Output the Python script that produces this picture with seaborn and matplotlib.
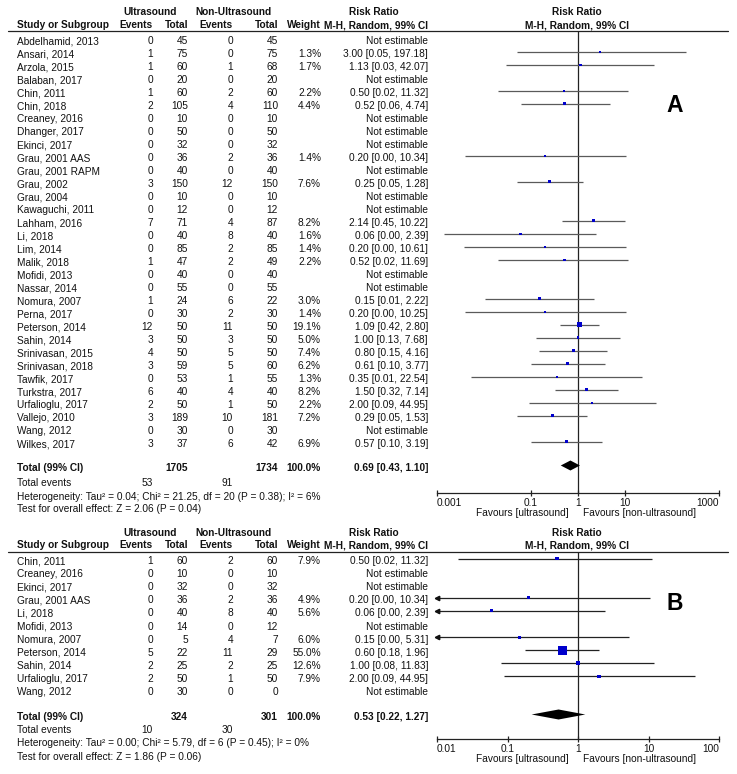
import numpy as np
import pandas as pd
import matplotlib
matplotlib.use('Agg')
import matplotlib.pyplot as plt
from matplotlib.lines import Line2D
from matplotlib.ticker import NullLocator
import seaborn as sns

# --- 数据: A 组 ---
studies_a = ['Abdelhamid, 2013', 'Ansari, 2014', 'Arzola, 2015', 'Balaban, 2017', 'Chin, 2011',
             'Chin, 2018', 'Creaney, 2016', 'Dhanger, 2017', 'Ekinci, 2017', 'Grau, 2001 AAS',
             'Grau, 2001 RAPM', 'Grau, 2002', 'Grau, 2004', 'Kawaguchi, 2011', 'Lahham, 2016',
             'Li, 2018', 'Lim, 2014', 'Malik, 2018', 'Mofidi, 2013', 'Nassar, 2014',
             'Nomura, 2007', 'Perna, 2017', 'Peterson, 2014', 'Sahin, 2014', 'Srinivasan, 2015',
             'Srinivasan, 2018', 'Tawfik, 2017', 'Turkstra, 2017', 'Urfalioglu, 2017', 'Vallejo, 2010',
             'Wang, 2012', 'Wilkes, 2017']
us_events_a = [0, 1, 1, 0, 1, 2, 0, 0, 0, 0, 0, 3, 0, 0, 7, 0, 0, 1, 0, 0, 1, 0, 12, 3, 4, 3, 0, 6, 2, 3, 0, 3]
us_total_a = [45, 75, 60, 20, 60, 105, 10, 50, 32, 36, 40, 150, 10, 12, 71, 40, 85, 47, 40, 55,
              24, 30, 50, 50, 50, 59, 53, 40, 50, 189, 30, 37]
non_events_a = [0, 0, 1, 0, 2, 4, 0, 0, 0, 2, 0, 12, 0, 0, 4, 8, 2, 2, 0, 0, 6, 2, 11, 3, 5, 5, 1, 4, 1, 10, 0, 6]
non_total_a = [45, 75, 68, 20, 60, 110, 10, 50, 32, 36, 40, 150, 10, 12, 87, 40, 85, 49, 40, 55,
               22, 30, 50, 50, 50, 60, 55, 40, 50, 181, 30, 42]
nan = np.nan
weight_a = [nan, 1.3, 1.7, nan, 2.2, 4.4, nan, nan, nan, 1.4, nan, 7.6, nan, nan, 8.2, 1.6, 1.4, 2.2,
            nan, nan, 3.0, 1.4, 19.1, 5.0, 7.4, 6.2, 1.3, 8.2, 2.2, 7.2, nan, 6.9]
rr_a = [nan, 3.00, 1.13, nan, 0.50, 0.52, nan, nan, nan, 0.20, nan, 0.25, nan, nan, 2.14, 0.06, 0.20,
        0.52, nan, nan, 0.15, 0.20, 1.09, 1.00, 0.80, 0.61, 0.35, 1.50, 2.00, 0.29, nan, 0.57]
lo_a = [nan, 0.05, 0.03, nan, 0.02, 0.06, nan, nan, nan, 0.0039, nan, 0.05, nan, nan, 0.45, 0.0014, 0.0038,
        0.02, nan, nan, 0.0105, 0.0039, 0.42, 0.13, 0.15, 0.10, 0.0054, 0.32, 0.09, 0.05, nan, 0.10]
hi_a = [nan, 197.18, 42.07, nan, 11.32, 4.74, nan, nan, nan, 10.34, nan, 1.28, nan, nan, 10.22, 2.39, 10.61,
        11.69, nan, nan, 2.22, 10.25, 2.80, 7.68, 4.16, 3.77, 22.54, 7.14, 44.95, 1.53, nan, 3.19]
totals_a = [1705, 1734, 100.0, 0.69, 0.43, 1.10]
total_events_a = [53, 91]
het_a = 'Heterogeneity: Tau\u00b2 = 0.04; Chi\u00b2 = 21.25, df = 20 (P = 0.38); I\u00b2 = 6%'
test_a = 'Test for overall effect: Z = 2.06 (P = 0.04)'

# --- 数据: B 组 ---
studies_b = ['Chin, 2011', 'Creaney, 2016', 'Ekinci, 2017', 'Grau, 2001 AAS', 'Li, 2018', 'Mofidi, 2013',
             'Nomura, 2007', 'Peterson, 2014', 'Sahin, 2014', 'Urfalioglu, 2017', 'Wang, 2012']
us_events_b = [1, 0, 0, 0, 0, 0, 0, 5, 2, 2, 0]
us_total_b = [60, 10, 32, 36, 40, 14, 5, 22, 25, 50, 30]
non_events_b = [2, 0, 0, 2, 8, 0, 4, 11, 2, 1, 0]
non_total_b = [60, 10, 32, 36, 40, 12, 7, 29, 25, 50, 0]
weight_b = [7.9, nan, nan, 4.9, 5.6, nan, 6.0, 55.0, 12.6, 7.9, nan]
rr_b = [0.50, nan, nan, 0.20, 0.06, nan, 0.15, 0.60, 1.00, 2.00, nan]
lo_b = [0.02, nan, nan, 0.0039, 0.0014, nan, 0.0042, 0.18, 0.08, 0.09, nan]
hi_b = [11.32, nan, nan, 10.34, 2.39, nan, 5.31, 1.96, 11.83, 44.95, nan]
totals_b = [324, 301, 100.0, 0.53, 0.22, 1.27]
total_events_b = [10, 30]
het_b = 'Heterogeneity: Tau\u00b2 = 0.00; Chi\u00b2 = 5.79, df = 6 (P = 0.45); I\u00b2 = 0%'
test_b = 'Test for overall effect: Z = 1.86 (P = 0.06)'

# --- 样式 ---
sns.set_theme(style='white')
plt.rcParams['font.family'] = ['Liberation Sans', 'DejaVu Sans']
FS = 7.3
W, H = 737, 774
fig = plt.figure(figsize=(W / 100, H / 100), dpi=100)


def fx(x):
    return x / W


def fy(y):
    return 1 - y / H


def txt(x, y, s, ha='left', bold=False, size=FS):
    fig.text(fx(x), fy(y), s, ha=ha, va='baseline', fontsize=size,
             fontweight='bold' if bold else 'normal', color='#111111')


COLS = dict(name=17, ev1=153, tot1=188, ev2=233, tot2=278, wt=321, rr=428)


def draw_panel(top, row0, dy, total_y, foot_y, axis_y, studies, ev1, tot1, ev2, tot2, wt, rr, lo, hi,
               totals, tev, het, test, xlim, xticks, xlabels, sizes, size_norm, line_color, letter, letter_y):
    # 表头
    txt(150, top - 16, 'Ultrasound', ha='center', bold=True)
    txt(233, top - 16, 'Non-Ultrasound', ha='center', bold=True)
    txt(374, top - 16, 'Risk Ratio', ha='center', bold=True)
    txt(577, top - 16, 'Risk Ratio', ha='center', bold=True)
    txt(COLS['name'], top - 3, 'Study or Subgroup', bold=True)
    txt(COLS['ev1'], top - 3, 'Events', ha='right', bold=True)
    txt(COLS['tot1'], top - 3, 'Total', ha='right', bold=True)
    txt(COLS['ev2'], top - 3, 'Events', ha='right', bold=True)
    txt(COLS['tot2'], top - 3, 'Total', ha='right', bold=True)
    txt(COLS['wt'], top - 3, 'Weight', ha='right', bold=True)
    txt(COLS['rr'], top - 3, 'M-H, Random, 99% CI', ha='right', bold=True)
    txt(577, top - 3, 'M-H, Random, 99% CI', ha='center', bold=True)
    fig.add_artist(Line2D([fx(8), fx(728)], [fy(top), fy(top)], color='#222222', lw=0.9))

    ys = [row0 + dy * i for i in range(len(studies))]
    for i, y in enumerate(ys):
        b = y + 5.5
        txt(COLS['name'], b, studies[i])
        txt(COLS['ev1'], b, str(ev1[i]), ha='right')
        txt(COLS['tot1'], b, str(tot1[i]), ha='right')
        txt(COLS['ev2'], b, str(ev2[i]), ha='right')
        txt(COLS['tot2'], b, str(tot2[i]), ha='right')
        if np.isnan(wt[i]):
            txt(COLS['rr'], b, 'Not estimable', ha='right')
        else:
            txt(COLS['wt'], b, f'{wt[i]:.1f}%', ha='right')
            txt(COLS['rr'], b, f'{rr[i]:.2f} [{lo[i]:.2f}, {hi[i]:.2f}]', ha='right')

    # 合计
    b = total_y + 5.5
    txt(COLS['name'], b, 'Total (99% CI)', bold=True)
    txt(COLS['tot1'], b, str(totals[0]), ha='right', bold=True)
    txt(COLS['tot2'], b, str(totals[1]), ha='right', bold=True)
    txt(COLS['wt'], b, f'{totals[2]:.1f}%', ha='right', bold=True)
    txt(COLS['rr'], b, f'{totals[3]:.2f} [{totals[4]:.2f}, {totals[5]:.2f}]', ha='right', bold=True)
    txt(COLS['name'], foot_y[0], 'Total events')
    txt(COLS['ev1'], foot_y[0], str(tev[0]), ha='right')
    txt(COLS['ev2'], foot_y[0], str(tev[1]), ha='right')
    txt(COLS['name'], foot_y[1], het)
    txt(COLS['name'], foot_y[2], test)

    # 森林图
    ax = fig.add_axes([fx(437), fy(axis_y), fx(719) - fx(437), (axis_y - top) / H])
    ax.set_xscale('log')
    df = pd.DataFrame({'y': ys, 'rr': rr, 'lo': lo, 'hi': hi, 'w': wt}).dropna()
    for _, r in df.iterrows():
        left = max(r['lo'], xlim[0])
        ax.hlines(r['y'], left, r['hi'], color=line_color, lw=0.9, zorder=2)
        if r['lo'] < xlim[0]:
            ax.plot(xlim[0], r['y'], marker='<', ms=3.2, color='#111111', clip_on=False, zorder=3)
    sns.scatterplot(data=df, x='rr', y='y', size='w', sizes=sizes, size_norm=size_norm,
                    marker='s', color='#0000cc', linewidth=0, legend=False, ax=ax, zorder=4)
    ax.fill([totals[4], totals[3], totals[5], totals[3]],
            [total_y, total_y - 5, total_y, total_y + 5], color='black', lw=0, zorder=4)
    ax.axvline(1, color='#222222', lw=0.9, zorder=1)
    ax.set_xlim(xlim)
    ax.set_ylim(axis_y, top)
    ax.set_xlabel('')
    ax.set_ylabel('')
    ax.set_yticks([])
    for s in ['top', 'left', 'right']:
        ax.spines[s].set_visible(False)
    ax.spines['bottom'].set_color('#222222')
    ax.spines['bottom'].set_linewidth(0.9)
    ax.patch.set_alpha(0)
    ax.set_xticks(xticks)
    ax.set_xticklabels(xlabels)
    ax.xaxis.set_minor_locator(NullLocator())
    ax.tick_params(axis='x', direction='inout', length=5, width=0.9, labelsize=FS, pad=1,
                   colors='#222222', labelcolor='#111111', bottom=True)
    labs = ax.get_xticklabels()
    labs[0].set_ha('left')
    labs[-1].set_ha('right')

    txt(569, axis_y + 23, 'Favours [ultrasound]', ha='right')
    txt(583, axis_y + 23, 'Favours [non-ultrasound]')
    fig.text(fx(675), fy(letter_y), letter, ha='center', va='center', fontsize=16.5,
             fontweight='bold', color='black')


draw_panel(31, 38.7, 13.0, 465.5, [485.5, 499.5, 511.5], 493, studies_a, us_events_a, us_total_a,
           non_events_a, non_total_a, weight_a, rr_a, lo_a, hi_a, totals_a, total_events_a, het_a, test_a,
           (0.001, 1000), [0.001, 0.1, 1, 10, 1000], ['0.001', '0.1', '1', '10', '1000'],
           (2.2, 11), (1, 19.1), '#5a5a5a', 'A', 105)

draw_panel(551.5, 558.5, 13.1, 714.5, [733, 746.5, 759.5], 739, studies_b, us_events_b, us_total_b,
           non_events_b, non_total_b, weight_b, rr_b, lo_b, hi_b, totals_b, total_events_b, het_b, test_b,
           (0.01, 100), [0.01, 0.1, 1, 10, 100], ['0.01', '0.1', '1', '10', '100'],
           (4, 42), (5, 55), '#222222', 'B', 603)

fig.savefig('out.png', dpi=100, facecolor='white')
